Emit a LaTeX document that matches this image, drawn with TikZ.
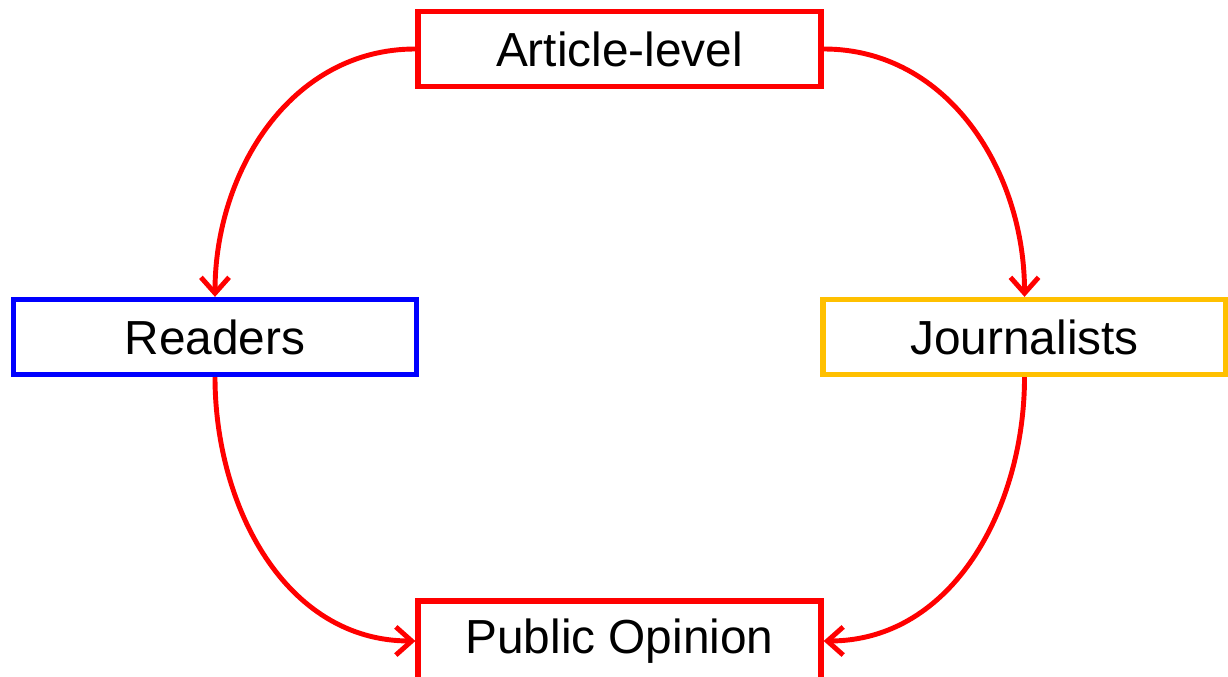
\documentclass[tikz,border=0pt]{standalone}
\usepackage{fontspec}
\setmainfont{Liberation Sans}
\usetikzlibrary{arrows.meta}
\definecolor{boxred}{RGB}{255,0,0}
\definecolor{boxblue}{RGB}{0,0,255}
\definecolor{boxgold}{RGB}{255,192,0}

\begin{document}
\begin{tikzpicture}

        \clip (0,0) rectangle (12.28,6.76);

        \begin{scope}[every node/.style={draw,line width=1.5pt,minimum width=4.03cm,minimum height=0.75cm,
            font=\fontsize{13.6}{16}\selectfont}]
          \node[draw=boxred]  (1) at (6.195,6.27) {Article-level};
          \node[draw=boxblue] (2) at (2.15,3.39)  {Readers};
          \node[draw=boxgold] (3) at (10.245,3.39) {Journalists};
          \node[draw=boxred,minimum height=0.8cm] (4) at (6.195,0.35) {Public Opinion};
        \end{scope}

        \begin{scope}[every edge/.style={draw,boxred,line width=1.4pt,-{Straight Barb[length=4.5pt,width=8pt]}}]
          \path (1.west)  edge[out=180,in=90]  (2.north);
          \path (1.east)  edge[out=0,in=90]    (3.north);
          \path (2.south) edge[out=270,in=180] (4.west);
          \path (3.south) edge[out=270,in=0]   (4.east);
        \end{scope}

      \end{tikzpicture}
\end{document}
